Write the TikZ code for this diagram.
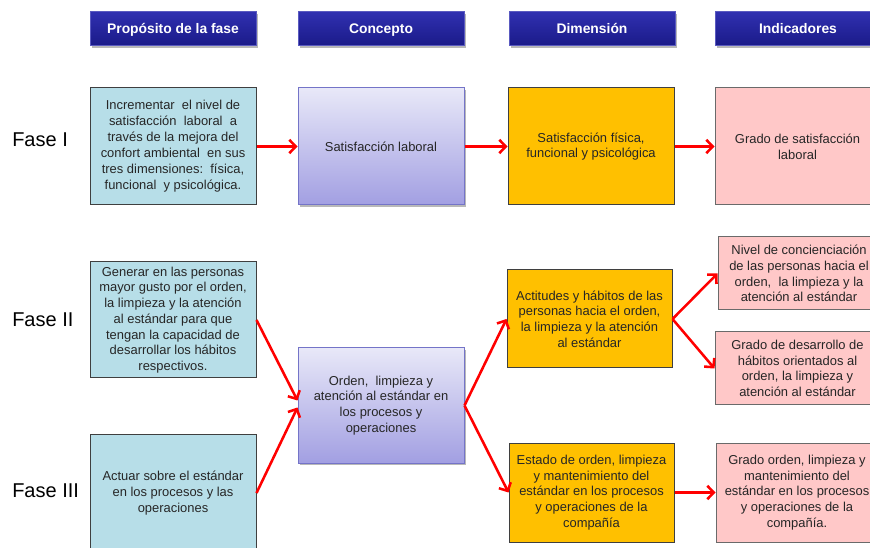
\documentclass[tikz,border=0pt]{standalone}
\usepackage{fontspec}
\setmainfont{Liberation Sans}
\usetikzlibrary{arrows.meta,shadows,calc}

\definecolor{hdrtop}{HTML}{3030B0}
\definecolor{hdrbot}{HTML}{1A1A88}
\definecolor{hdrline}{HTML}{5A5AC0}
\definecolor{tealfill}{HTML}{B7DEE8}
\definecolor{conctop}{HTML}{E8E8F8}
\definecolor{concbot}{HTML}{A29FE2}
\definecolor{concline}{HTML}{7474C8}
\definecolor{dimfill}{HTML}{FFC000}
\definecolor{indfill}{HTML}{FFC8C8}
\definecolor{darkline}{HTML}{3F3F3F}
\definecolor{indline}{HTML}{6A6A6A}
\definecolor{txtgray}{HTML}{262626}
\definecolor{arrred}{HTML}{FF0000}

\begin{document}
\begin{tikzpicture}[x=0.75pt,y=-0.75pt,
  box/.style={draw, line width=0.75pt, inner sep=0pt, align=center,
    text=txtgray, font=\fontsize{9.7}{11.8}\selectfont},
  softshadow/.style={drop shadow={shadow xshift=1.3pt, shadow yshift=-1.3pt,
    opacity=0.28, fill=black}},
  hdr/.style={box, draw=hdrline, top color=hdrtop, bottom color=hdrbot,
    text=white, font=\bfseries\fontsize{10.4}{12}\selectfont,
    text height=7.5pt, text depth=0pt,
    minimum width=124.5pt, minimum height=25.5pt, softshadow},
  purpose/.style={box, draw=darkline, fill=tealfill, minimum width=124.5pt},
  concept/.style={box, draw=concline, top color=conctop, bottom color=concbot,
    minimum width=124.5pt, softshadow},
  dimension/.style={box, draw=darkline, fill=dimfill},
  indicator/.style={box, draw=indline, fill=indfill},
  phase/.style={anchor=west, inner sep=0pt, text=black,
    font=\fontsize{15}{18}\selectfont},
  arr/.style={draw=arrred, line width=1.9pt,
    -{Straight Barb[length=4.8pt,width=10pt]}}
]
\useasboundingbox (0,0) rectangle (870,548);
\clip (0,0) rectangle (870,548);
\fill[white] (0,0) rectangle (870,548);

% column headers
\node[hdr] (h1) at (173,29) {Propósito de la fase};
\node[hdr] (h2) at (381,29) {Concepto};
\node[hdr] (h3) at (592,29) {Dimensión};
\node[hdr] (h4) at (798,29) {Indicadores};

% phase labels
\node[phase] (f1) at (12,140) {Fase I};
\node[phase] (f2) at (12,320) {Fase II};
\node[phase] (f3) at (12,491) {Fase III};

% phase I
\node[purpose, minimum height=87.75pt, font=\fontsize{9.7}{12}\selectfont] (t1) at (173,146.5)
  {Incrementar\ \ el nivel de\\satisfacción\ \ laboral\ \ a\\través de la mejora del\\confort ambiental\ \ en sus\\tres dimensiones:\ \ física,\\funcional\ \ y psicológica.};
\node[concept, minimum height=87.75pt] (c1) at (381,146.5) {Satisfacción laboral};
\node[dimension, minimum width=124.5pt, minimum height=87.75pt] (d1) at (591,146.5)
  {Satisfacción física,\\funcional y psicológica};
\node[indicator, minimum width=123.75pt, minimum height=87.75pt] (i1) at (797.5,146.5)
  {Grado de satisfacción\\laboral};

% phase II
\node[purpose, minimum height=87pt] (t2) at (173,320)
  {Generar en las personas\\mayor gusto por el orden,\\la limpieza y la atención\\al estándar para que\\tengan la capacidad de\\desarrollar los hábitos\\respectivos.};
\node[concept, minimum height=86.25pt] (c2) at (381,405.5)
  {Orden,\ \ limpieza y\\atención al estándar en\\los procesos y\\operaciones};
\node[dimension, minimum width=123.75pt, minimum height=73.5pt] (d2) at (589.5,319)
  {Actitudes y hábitos de las\\personas hacia el orden,\\la limpieza y la atención\\al estándar};
\node[indicator, minimum width=121.5pt, minimum height=54.75pt] (i2) at (799,273.5)
  {Nivel de concienciación\\de las personas hacia el\\orden,\ \ la limpieza y la\\atención al estándar};
\node[indicator, minimum width=123.75pt, minimum height=54.75pt] (i3) at (797.5,368.5)
  {Grado de desarrollo de\\hábitos orientados al\\orden, la limpieza y\\atención al estándar};

% phase III
\node[purpose, minimum height=88.5pt] (t3) at (173,493)
  {Actuar sobre el estándar\\en los procesos y las\\operaciones};
\node[dimension, minimum width=123.75pt, minimum height=74.25pt] (d3) at (591.5,492.5)
  {Estado de orden, limpieza\\y mantenimiento del\\estándar en los procesos\\y operaciones de la\\compañía};
\node[indicator, minimum width=121.5pt, minimum height=74.25pt] (i4) at (797,492.5)
  {Grado orden, limpieza y\\mantenimiento del\\estándar en los procesos\\y operaciones de la\\compañía.};

% connectors
\draw[arr] (t1.east) -- (c1.west);
\draw[arr] (c1.east) -- (d1.west);
\draw[arr] (d1.east) -- (i1.west);
\draw[arr] (t2.east) -- ($(c2.west)+(0,-5)$);
\draw[arr] (t3.east) -- ($(c2.west)+(0,2)$);
\draw[arr] (c2.east) -- (d2.west);
\draw[arr] (c2.east) -- (d3.west);
\draw[arr] (d2.east) -- (i2.west);
\draw[arr] (d2.east) -- (i3.west);
\draw[arr] (d3.east) -- (i4.west);
\end{tikzpicture}
\end{document}
